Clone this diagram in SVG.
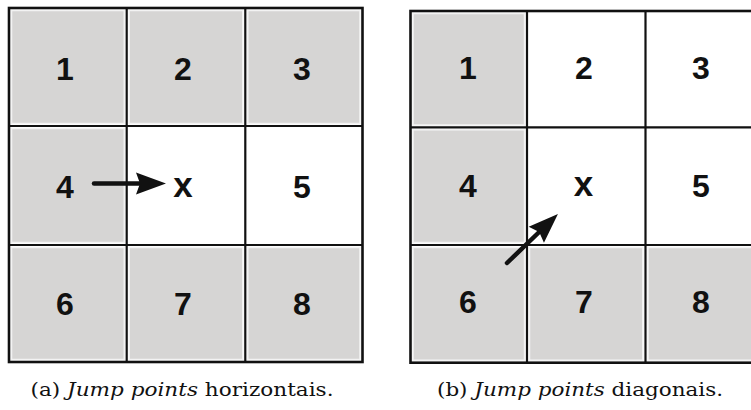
<svg xmlns="http://www.w3.org/2000/svg" width="751" height="410" viewBox="0 0 751 410">
<style>
.bg{fill:#ffffff}
.g{fill:#d6d5d4;stroke:#f3f3f3;stroke-width:1.5}
.w{fill:#ffffff;stroke:none}
.ln{stroke:#111;stroke-width:2.2;fill:none}
.out{stroke:#111;stroke-width:2.6;fill:none}
.lbl{font-family:"Liberation Sans",Arial,sans-serif;font-weight:bold;font-size:32px;fill:#111;text-anchor:middle}
.xl{font-size:35px}
.cap{font-family:"DejaVu Serif","Liberation Serif",serif;font-size:19px;fill:#111;text-anchor:middle}
.arr{stroke:#111;stroke-width:4.5;fill:none;stroke-linecap:round}
</style>
<defs>
<marker id="head" markerUnits="userSpaceOnUse" markerWidth="32" markerHeight="24" refX="4" refY="11" orient="auto" overflow="visible">
<path d="M0,0 L30,11 L0,22 L4,11 z" fill="#111"/>
</marker>
</defs>
<rect class="bg" x="0" y="0" width="751" height="410"/>

<g id="gridA">
<g id="a1"><rect class="g" x="11.5" y="10.5" width="112.8" height="113"/><text class="lbl" x="65" y="80">1</text></g>
<g id="a2"><rect class="g" x="129.2" y="10.5" width="113.6" height="113"/><text class="lbl" x="183" y="80">2</text></g>
<g id="a3"><rect class="g" x="247.8" y="10.5" width="112.2" height="113"/><text class="lbl" x="302" y="80">3</text></g>
<g id="a4"><rect class="g" x="11.5" y="128.5" width="112.8" height="114"/><text class="lbl" x="65" y="198">4</text></g>
<g id="ax"><rect class="w" x="127.7" y="127" width="116.6" height="117"/><text class="lbl xl" x="183" y="197">x</text></g>
<g id="a5"><rect class="w" x="246.3" y="127" width="115.2" height="117"/><text class="lbl" x="302" y="198">5</text></g>
<g id="a6"><rect class="g" x="11.5" y="247.5" width="112.8" height="112"/><text class="lbl" x="65" y="315">6</text></g>
<g id="a7"><rect class="g" x="129.2" y="247.5" width="113.6" height="112"/><text class="lbl" x="183" y="315">7</text></g>
<g id="a8"><rect class="g" x="247.8" y="247.5" width="112.2" height="112"/><text class="lbl" x="302" y="315">8</text></g>
<path class="ln" d="M126.7,8 V362 M245.3,8 V362 M9,126 H362.5 M9,245 H362.5"/>
<rect class="out" x="9" y="8" width="353.5" height="354"/>
</g>

<g id="gridB">
<g id="b1"><rect class="g" x="413" y="13.5" width="111.5" height="111.5"/><text class="lbl" x="468" y="79">1</text></g>
<g id="b2"><rect class="w" x="528" y="12" width="116.5" height="114.3"/><text class="lbl" x="584" y="79">2</text></g>
<g id="b3"><rect class="w" x="646.5" y="12" width="110" height="114.3"/><text class="lbl" x="701" y="79">3</text></g>
<g id="b4"><rect class="g" x="413" y="129.8" width="111.5" height="112.7"/><text class="lbl" x="468" y="197">4</text></g>
<g id="bx"><rect class="w" x="528" y="128.3" width="116.5" height="115.7"/><text class="lbl xl" x="583.5" y="196">x</text></g>
<g id="b5"><rect class="w" x="646.5" y="128.3" width="110" height="115.7"/><text class="lbl" x="701" y="197">5</text></g>
<g id="b6"><rect class="g" x="413" y="247.5" width="111.5" height="112.7"/><text class="lbl" x="468" y="313">6</text></g>
<g id="b7"><rect class="g" x="529.5" y="247.5" width="113.3" height="112.7"/><text class="lbl" x="584" y="313">7</text></g>
<g id="b8"><rect class="g" x="648" y="247.5" width="110" height="112.7"/><text class="lbl" x="701" y="313">8</text></g>
<path class="ln" d="M527,11 V362.7 M645.5,11 V362.7 M410.5,127.3 H764 M410.5,245 H764"/>
<rect class="out" x="410.5" y="11" width="354" height="351.7"/>
</g>

<g id="connectors">
<line class="arr" x1="94" y1="183.5" x2="140" y2="183.5" marker-end="url(#head)"/>
<line class="arr" x1="507" y1="263" x2="539.2" y2="232" marker-end="url(#head)"/>
</g>

<g id="captions">
<text class="cap" x="182" y="396" textLength="303" lengthAdjust="spacingAndGlyphs">(a) <tspan font-style="italic">Jump points</tspan> horizontais.</text>
<text class="cap" x="580" y="396" textLength="286" lengthAdjust="spacingAndGlyphs">(b) <tspan font-style="italic">Jump points</tspan> diagonais.</text>
</g>
</svg>
